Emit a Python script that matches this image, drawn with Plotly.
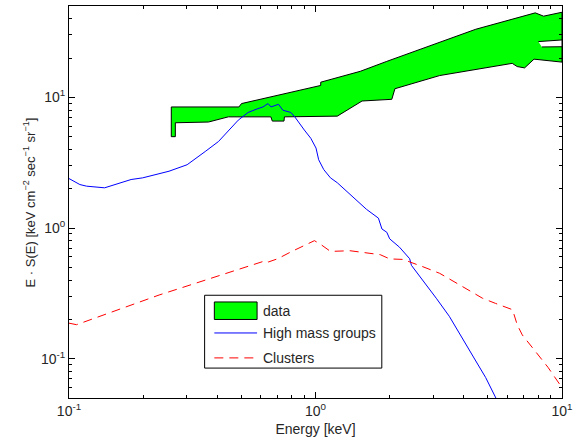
import plotly.graph_objects as go

# ---- data ----
band_upper_x = [0.260, 0.489, 0.501, 1.05, 1.05, 1.52, 1.946, 4.47, 7.79, 8.42, 10.0]
band_upper_y = [8.44, 8.44, 8.96, 12.33, 13.06, 15.82, 18.84, 33.2, 44.3, 41.8, 44.8]
band_lower_x = [0.260, 0.260, 0.270, 0.270, 0.368, 0.443, 0.659, 0.668, 0.745, 0.748,
                1.226, 1.545, 2.04, 2.10, 3.19, 6.28, 6.58, 7.05, 7.70, 10.0]
band_lower_y = [8.44, 5.0, 5.0, 6.39, 6.47, 7.09, 7.09, 6.58, 6.58, 7.09,
                7.18, 9.375, 9.66, 11.64, 14.68, 18.2, 17.2, 16.8, 19.6, 18.6]
hole_x = [8.01, 10.0, 10.0, 8.29]
hole_y = [26.7, 27.5, 24.4, 24.3]

groups_x = [0.1, 0.1107, 0.1178, 0.1395, 0.1786, 0.199, 0.2545, 0.3015, 0.357, 0.404,
            0.486, 0.533, 0.584, 0.612, 0.642, 0.66, 0.708, 0.737, 0.794, 0.824,
            0.901, 0.957, 1.005, 1.03, 1.08, 1.15, 1.226, 1.45, 1.61, 1.80, 1.86,
            1.946, 2.0, 2.19, 2.41, 2.45, 2.73, 3.09, 3.49, 3.95, 4.47, 4.9, 5.29, 5.45]
groups_y = [2.39, 2.15, 2.09, 2.03, 2.35, 2.42, 2.72, 3.05, 3.85, 4.59,
            6.69, 7.66, 8.2, 8.44, 8.96, 8.44, 8.85, 7.97, 7.66, 7.09,
            5.62, 4.86, 4.09, 3.33, 2.8, 2.42, 2.22, 1.66, 1.39, 1.19, 0.983,
            0.928, 0.826, 0.714, 0.582, 0.518, 0.399, 0.29, 0.211, 0.144, 0.096, 0.0718, 0.0537, 0.048]

clusters_x = [0.1, 0.1073, 0.232, 0.457, 0.632, 0.645, 0.703, 0.794, 0.99, 1.05, 1.15,
              1.38, 1.83, 2.0, 2.26, 2.73, 3.19, 3.95, 4.76, 5.37, 6.3, 6.58, 6.9,
              7.79, 8.78, 10.0]
clusters_y = [0.187, 0.182, 0.307, 0.462, 0.565, 0.55, 0.582, 0.656, 0.80, 0.749, 0.662,
              0.67, 0.625, 0.58, 0.575, 0.505, 0.45, 0.356, 0.29, 0.265, 0.237, 0.182, 0.152,
              0.114, 0.0857, 0.060]

legend_labels = ["data", "High mass groups", "Clusters"]
x_title = "Energy [keV]"
y_title = "E · S(E) [keV cm<sup>−2</sup> sec<sup>−1</sup> sr<sup>−1</sup>]"

major_ticks = [0.1, 1, 10]
major_labels = ["10<sup>-1</sup>", "10<sup>0</sup>", "10<sup>1</sup>"]
decades = [0.01, 0.1, 1, 10]
minor_ticks = [d * m for d in decades for m in range(2, 10)]

GREEN = "#00ff00"
BLUE = "#0000ff"
RED = "#ff0000"
DASH = "9px,6px"
TXT = "#262626"

fig = go.Figure()

poly_x = band_upper_x + band_lower_x[::-1]
poly_y = band_upper_y + band_lower_y[::-1]
fig.add_trace(go.Scatter(x=poly_x, y=poly_y, fill="toself", fillcolor=GREEN,
                         mode="lines", line=dict(color="black", width=1),
                         name=legend_labels[0], showlegend=False))
fig.add_trace(go.Scatter(x=hole_x, y=hole_y, fill="toself", fillcolor="white",
                         mode="lines", line=dict(color="black", width=1),
                         showlegend=False, hoverinfo="skip"))
fig.add_trace(go.Scatter(x=groups_x, y=groups_y, mode="lines",
                         line=dict(color=BLUE, width=1), name=legend_labels[1],
                         showlegend=False))
fig.add_trace(go.Scatter(x=clusters_x, y=clusters_y, mode="lines",
                         line=dict(color=RED, width=1, dash=DASH), name=legend_labels[2],
                         showlegend=False))

# ---- legend drawn as shapes + text (MATLAB-style box) ----
lx0, lx1, ly0, ly1 = 0.2751, 0.6345, 0.0763, 0.2621
sx0, sx1 = 0.2948, 0.3815
tx = 0.3896
rows = [0.2227, 0.1659, 0.1023]
shapes = [
    dict(type="rect", xref="paper", yref="paper", x0=lx0, x1=lx1, y0=ly0, y1=ly1,
         fillcolor="white", line=dict(color="black", width=1), layer="above"),
    dict(type="rect", xref="paper", yref="paper", x0=sx0, x1=sx1, y0=0.2003, y1=0.2450,
         fillcolor=GREEN, line=dict(color="black", width=1), layer="above"),
    dict(type="line", xref="paper", yref="paper", x0=sx0, x1=sx1, y0=rows[1], y1=rows[1],
         line=dict(color=BLUE, width=1), layer="above"),
    dict(type="line", xref="paper", yref="paper", x0=sx0, x1=sx1, y0=rows[2], y1=rows[2],
         line=dict(color=RED, width=1, dash=DASH), layer="above"),
]
annotations = [
    dict(xref="paper", yref="paper", x=tx, y=yy, text=t, showarrow=False,
         xanchor="left", yanchor="middle", font=dict(size=14, color=TXT))
    for t, yy in zip(legend_labels, rows)
]
annotations.append(dict(xref="paper", yref="paper", x=-0.0803, y=0.5, text=y_title,
                        textangle=-90, showarrow=False, xanchor="center", yanchor="middle",
                        font=dict(size=13, color=TXT)))

axis_common = dict(
    type="log", showgrid=False, zeroline=False, showline=True, linecolor="black",
    linewidth=1, mirror="ticks", ticks="inside", ticklen=6, tickcolor="black",
    tickmode="array", tickvals=major_ticks, ticktext=major_labels,
    tickfont=dict(size=14, color=TXT),
    minor=dict(ticks="inside", ticklen=3, tickcolor="black", tickmode="array",
               tickvals=minor_ticks, showgrid=False),
)

fig.update_layout(
    width=578, height=443,
    margin=dict(l=69, r=11, t=5, b=45),
    paper_bgcolor="white", plot_bgcolor="white",
    font=dict(family="Liberation Sans, Arial, sans-serif", size=14, color=TXT),
    xaxis=dict(axis_common, range=[-1, 1],
               title=dict(text=x_title, standoff=6, font=dict(size=14, color=TXT))),
    yaxis=dict(axis_common, range=[-1.301, 1.699]),
    shapes=shapes,
    annotations=annotations,
    showlegend=False,
)

fig.write_html("out.html")
